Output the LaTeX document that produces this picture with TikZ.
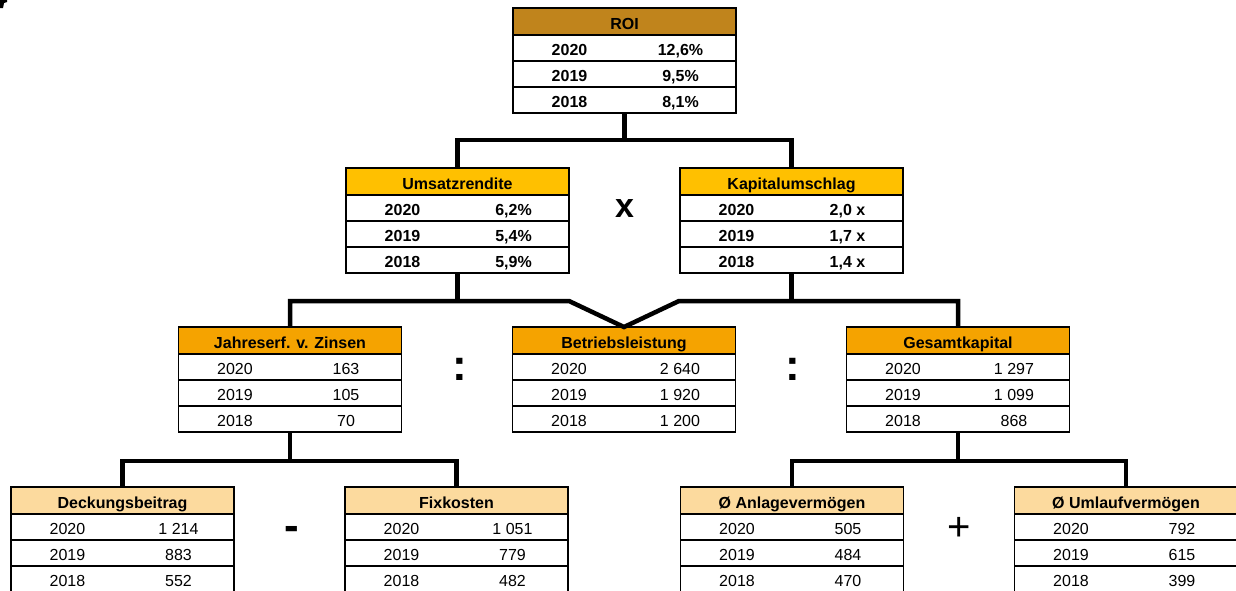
\documentclass[tikz,border=0pt]{standalone}
\usepackage{fontspec}
\setmainfont{Liberation Sans}
\definecolor{roic}{HTML}{C0841C}
\definecolor{lvla}{HTML}{FFC000}
\definecolor{lvlb}{HTML}{F5A300}
\definecolor{lvlc}{HTML}{FCDA9E}
\tikzset{
  cell/.style={line width=1.8pt},
  conn/.style={line width=4.5pt, line join=miter},
  frame/.style={draw=none, minimum width=223pt, minimum height=105pt, inner sep=0pt, outer sep=0pt},
  txt/.style={anchor=base, inner sep=0pt},
  rowb/.style={font=\fontsize{16}{19}\selectfont\bfseries},
  rowr/.style={font=\fontsize{16}{19}\selectfont},
  op/.style={inner sep=0pt}
}
% #1 name, #2 cx, #3 top, #4 header fill, #5 title, #6-#8 values, #9 row style
\newcommand\kbox[9]{%
  \node[frame] (#1) at (#2,#3+52.5) {};
  \fill[#4] (#2-111.5,#3) rectangle (#2+111.5,#3+27);
  \draw[cell] (#2-111.5,#3) rectangle (#2+111.5,#3+105);
  \draw[cell] (#2-111.5,#3+27) -- (#2+111.5,#3+27);
  \draw[cell] (#2-111.5,#3+53) -- (#2+111.5,#3+53);
  \draw[cell] (#2-111.5,#3+79) -- (#2+111.5,#3+79);
  \node[txt,rowb] (#1-t) at (#2,#3+21) {#5};
  \node[txt,#9] (#1-ya) at (#2-55,#3+47) {2020};
  \node[txt,#9] (#1-va) at (#2+56,#3+47) {#6};
  \node[txt,#9] (#1-yb) at (#2-55,#3+73) {2019};
  \node[txt,#9] (#1-vb) at (#2+56,#3+73) {#7};
  \node[txt,#9] (#1-yc) at (#2-55,#3+99) {2018};
  \node[txt,#9] (#1-vc) at (#2+56,#3+99) {#8};
}
\begin{document}
\begin{tikzpicture}[x=1pt,y=-1pt]
\useasboundingbox (0,0) rectangle (1236,590);
\clip (0,0) rectangle (1236,590);
\fill[black] (0,0) -- (7,0) -- (7,2) -- (4,3) -- (3,8) -- (0,8) -- cycle;

\kbox{roi}{624.5}{8}{roic}{ROI}{12,6\%}{9,5\%}{8,1\%}{rowb}
\kbox{umsatz}{457.5}{168}{lvla}{Umsatzrendite}{6,2\%}{5,4\%}{5,9\%}{rowb}
\kbox{kapital}{791.5}{168}{lvla}{Kapitalumschlag}{2,0 x}{1,7 x}{1,4 x}{rowb}
\kbox{jahr}{290}{327}{lvlb}{Jahreserf. v. Zinsen}{163}{105}{70}{rowr}
\kbox{betrieb}{624}{327}{lvlb}{Betriebsleistung}{2 640}{1 920}{1 200}{rowr}
\kbox{gesamt}{958}{327}{lvlb}{Gesamtkapital}{1 297}{1 099}{868}{rowr}
\kbox{deck}{122.5}{487}{lvlc}{Deckungsbeitrag}{1 214}{883}{552}{rowr}
\kbox{fix}{456.5}{487}{lvlc}{Fixkosten}{1 051}{779}{482}{rowr}
\kbox{anlage}{792}{487}{lvlc}{\O{} Anlagevermögen}{505}{484}{470}{rowr}
\kbox{umlauf}{1126}{487}{lvlc}{\O{} Umlaufvermögen}{792}{615}{399}{rowr}

% connectors
\coordinate (ja) at (624.5,140);
\draw[conn] (roi.south) -- (ja);
\draw[conn] (umsatz.north) |- (ja) -| (kapital.north);

\coordinate (ba) at (569,301);
\coordinate (bb) at (679,301);
\draw[conn] (umsatz.south) -- (umsatz.south |- ba);
\draw[conn] (kapital.south) -- (kapital.south |- bb);
\draw[conn] (jahr.north) |- (ba) -- (betrieb.north) -- (bb) -| (gesamt.north);

\coordinate (ca) at (290,461);
\draw[conn] (jahr.south) -- (ca);
\draw[conn] (deck.north) |- (ca) -| (fix.north);

\coordinate (cb) at (958,461);
\draw[conn] (gesamt.south) -- (cb);
\draw[conn] (anlage.north) |- (cb) -| (umlauf.north);

% operators
\node[op,font=\fontsize{34}{34}\selectfont\bfseries] (opx) at (624.5,209) {x};
\node[op,font=\fontsize{44}{44}\selectfont\bfseries] (opca) at (460,369) {:};
\node[op,font=\fontsize{44}{44}\selectfont\bfseries] (opcb) at (793,369) {:};
\node[op,anchor=base,font=\fontsize{44}{44}\selectfont\bfseries] (opm) at (291.5,540) {-};
\node[op,font=\fontsize{40}{40}\selectfont] (opp) at (959.5,528.5) {+};
\end{tikzpicture}
\end{document}
